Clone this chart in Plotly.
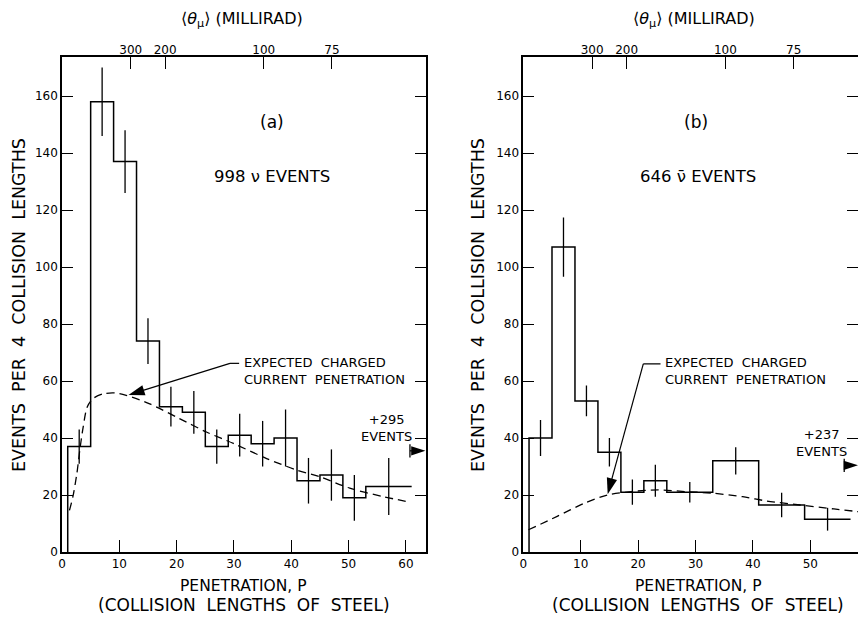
import plotly.graph_objects as go

# ---------------- data ----------------
# Panel (a): neutrino events
a_edges = [1, 5, 9, 13, 17, 21, 25, 29, 33, 37, 41, 45, 49, 53, 61]
a_counts = [37, 158, 137, 74, 51, 49, 37, 41, 38, 40, 25, 27, 19, 23]
a_errors = [6, 12, 11, 8, 7, 7.5, 6, 7.5, 8, 10, 8, 9, 8, 10]
a_curve_p = [1.3, 1.9, 2.6, 3.1, 3.7, 4.4, 5.4, 7.2, 9.2, 11.2, 15.3, 20.5, 25.2,
             29.9, 35.7, 40.9, 45.0, 50.2, 56.1, 60.7]
a_curve_y = [14.6, 19.4, 27.6, 35.7, 43.9, 50.9, 53.8, 55.5, 55.8, 55.0, 52.0, 46.8,
             42.1, 38.1, 32.8, 28.8, 26.4, 22.4, 19.4, 17.5]
a_overflow_text = "+295<br>EVENTS"
a_overflow_y = 35.5

# Panel (b): antineutrino events
b_edges = [1, 5, 9, 13, 17, 21, 25, 33, 41, 49, 57]
b_counts = [40, 107, 53, 35, 21, 25, 21, 32, 16.5, 11.5]
b_errors = [6.3, 10.4, 5.4, 5, 4.4, 5.6, 3.6, 4.8, 4.3, 4]
b_curve_p = [0.9, 5.9, 10.6, 14.7, 18.8, 23.5, 28.2, 33.2, 38.2, 42.4, 48.2, 54.1, 59.1]
b_curve_y = [7.8, 12.5, 17.1, 20.0, 21.2, 21.8, 21.2, 20.6, 19.4, 17.9, 16.5, 15.1, 14.0]
b_overflow_text = "+237<br>EVENTS"
b_overflow_y = 30.4

# Top axis: mean muon angle (milliradians) at given penetrations
theta_labels = ["300", "200", "100", "75"]
theta_pos = [12.0, 18.0, 35.2, 47.1]

y_ticks = [0, 20, 40, 60, 80, 100, 120, 140, 160]
a_x_ticks = [0, 10, 20, 30, 40, 50, 60]
b_x_ticks = [0, 10, 20, 30, 40, 50]

FONT = "DejaVu Sans"
BLACK = "black"

fig = go.Figure()


def add_panel(edges, counts, errors, cp, cy, xa, ya):
    sx = [edges[0]] + edges
    sy = [0] + counts + [counts[-1]]
    fig.add_trace(go.Scatter(x=sx, y=sy, mode="lines", line=dict(shape="hv", color=BLACK, width=1.5),
                             xaxis=xa, yaxis=ya, showlegend=False, hoverinfo="skip"))
    ex, ey = [], []
    for i in range(len(counts)):
        c = (edges[i] + edges[i + 1]) / 2
        ex += [c, c, None]
        ey += [counts[i] - errors[i], counts[i] + errors[i], None]
    fig.add_trace(go.Scatter(x=ex, y=ey, mode="lines", line=dict(color=BLACK, width=1.3),
                             xaxis=xa, yaxis=ya, showlegend=False, hoverinfo="skip"))
    fig.add_trace(go.Scatter(x=cp, y=cy, mode="lines",
                             line=dict(shape="spline", smoothing=0.8, color=BLACK, width=1.3, dash="8px,5px"),
                             xaxis=xa, yaxis=ya, showlegend=False, hoverinfo="skip"))


def add_arrow(x0, y0, x1, y1, xa, ya, size=16):
    fig.add_trace(go.Scatter(x=[x0, x1], y=[y0, y1], mode="lines+markers",
                             line=dict(color=BLACK, width=1.2),
                             marker=dict(symbol=["circle", "arrow"], angleref="previous",
                                         size=[1, size], opacity=[0, 1], color=BLACK,
                                         line=dict(width=0)),
                             xaxis=xa, yaxis=ya, showlegend=False, hoverinfo="skip", cliponaxis=False))


add_panel(a_edges, a_counts, a_errors, a_curve_p, a_curve_y, "x", "y")
add_panel(b_edges, b_counts, b_errors, b_curve_p, b_curve_y, "x2", "y2")
# invisible traces so the extra axes render
for xa, ya in [("x3", "y"), ("x4", "y2"), ("x2", "y3")]:
    fig.add_trace(go.Scatter(x=[0], y=[0], mode="markers", marker=dict(size=1, opacity=0),
                             xaxis=xa, yaxis=ya, showlegend=False, hoverinfo="skip"))

W, H = 858, 618
a_dom = [62 / W, 426 / W]
b_dom = [523.3 / W, 1.0]
y_dom = [66 / H, 561 / H]
a_range = [0, 63.5]
b_range = [0, 58.3]
y_range = [0, 173.7]

tickfont = dict(family=FONT, size=12, color=BLACK)
xcommon = dict(showline=True, linecolor=BLACK, linewidth=1.5, mirror=True, ticks="inside",
               ticklen=12, tickwidth=1.3, tickcolor=BLACK, showgrid=False, zeroline=False,
               tickfont=tickfont, automargin=False)
ycommon = dict(showline=True, linecolor=BLACK, linewidth=1.5, ticks="inside",
               ticklen=11, tickwidth=1.3, tickcolor=BLACK, showgrid=False, zeroline=False,
               tickfont=tickfont, range=y_range, domain=y_dom, tickvals=y_ticks, automargin=False)
topcommon = dict(showline=False, ticks="inside", ticklen=12, tickwidth=1.3, tickcolor=BLACK,
                 showgrid=False, zeroline=False, tickfont=tickfont, side="top",
                 tickvals=theta_pos, ticktext=theta_labels, automargin=False)

fig.update_layout(
    width=W, height=H, margin=dict(l=0, r=0, t=0, b=0),
    paper_bgcolor="white", plot_bgcolor="white",
    xaxis=dict(domain=a_dom, range=a_range, tickvals=a_x_ticks, anchor="y", **xcommon),
    yaxis=dict(anchor="x", mirror="ticks", **ycommon),
    xaxis2=dict(domain=b_dom, range=b_range, tickvals=b_x_ticks, anchor="y2", **xcommon),
    yaxis2=dict(anchor="x2", mirror=False, **ycommon),
    yaxis3=dict(overlaying="y2", side="right", anchor="x2", range=y_range, domain=y_dom,
                tickvals=y_ticks, ticks="inside", ticklen=11, tickwidth=1.3, tickcolor=BLACK,
                showline=False, showticklabels=False, showgrid=False, zeroline=False),
    xaxis3=dict(overlaying="x", domain=a_dom, range=a_range, anchor="y", **topcommon),
    xaxis4=dict(overlaying="x2", domain=b_dom, range=b_range, anchor="y2", **topcommon),
    showlegend=False,
)

ann = []
shapes = []


def txt(text, x, y, size, xref, yref, xanchor="center", yanchor="middle", align="center", textangle=0):
    ann.append(dict(text=text, x=x, y=y, xref=xref, yref=yref, showarrow=False,
                    xanchor=xanchor, yanchor=yanchor, align=align, textangle=textangle,
                    font=dict(family=FONT, size=size, color=BLACK)))


panels = [
    ("x", "y", "(a)", "998 ν EVENTS", 36.6, 36.6, 244, 242, 19),
    ("x2", "y2", "(b)", "646 ν\u0304 EVENTS", 30.1, 30.5, 698, 694, 478),
]
for xref, yref, pan_label, events, lx, ex, cx, tcx, ycx in panels:
    txt(pan_label, lx, 151, 17, xref, yref)
    txt(events, ex, 131.8, 16.5, xref, yref)
    txt("PENETRATION, P", cx / W, 1 - 586 / H, 15.5, "paper", "paper")
    txt("(COLLISION  LENGTHS  OF  STEEL)", cx / W, 1 - 605 / H, 17, "paper", "paper")
    txt("⟨<i>θ</i><sub>μ</sub>⟩ (MILLIRAD)", tcx / W, 1 - 20 / H, 16, "paper", "paper")
    txt("EVENTS  PER  4  COLLISION  LENGTHS", ycx / W, 1 - 305 / H, 17.5,
        "paper", "paper", textangle=-90)

# Expected curve labels with elbow arrows
for xref, yref, tx, ty, elbow, hstop, tip in [
    ("x", "y", 31.4, 63.6, (29.3, 66.2), 30.9, (11.6, 55.1)),
    ("x2", "y2", 24.4, 63.4, (20.9, 66.0), 23.9, (14.7, 20.3)),
]:
    txt("EXPECTED  CHARGED<br>CURRENT  PENETRATION", tx, ty, 13, xref, yref, xanchor="left", align="left")
    shapes.append(dict(type="line", xref=xref, yref=yref, x0=elbow[0], y0=elbow[1], x1=hstop, y1=elbow[1],
                       line=dict(color=BLACK, width=1.2)))
    add_arrow(elbow[0], elbow[1], tip[0], tip[1], xref, yref, size=17)

# Overflow markers
for xref, yref, text, tx, ty, yv, bar_x, tip_x in [
    ("x", "y", a_overflow_text, 61.4, 43.5, a_overflow_y, 60.7, 63.4),
    ("x2", "y2", b_overflow_text, 56.7, 38.3, b_overflow_y, 55.9, 58.3),
]:
    txt(text, tx, ty, 13, xref, yref, xanchor="right", align="center")
    shapes.append(dict(type="line", xref=xref, yref=yref, x0=bar_x, x1=bar_x, y0=yv - 2.3, y1=yv + 2.3,
                       line=dict(color=BLACK, width=1.3)))
    add_arrow(bar_x, yv, tip_x, yv, xref, yref, size=15)

fig.update_layout(annotations=ann, shapes=shapes)
fig.write_html("out.html")
